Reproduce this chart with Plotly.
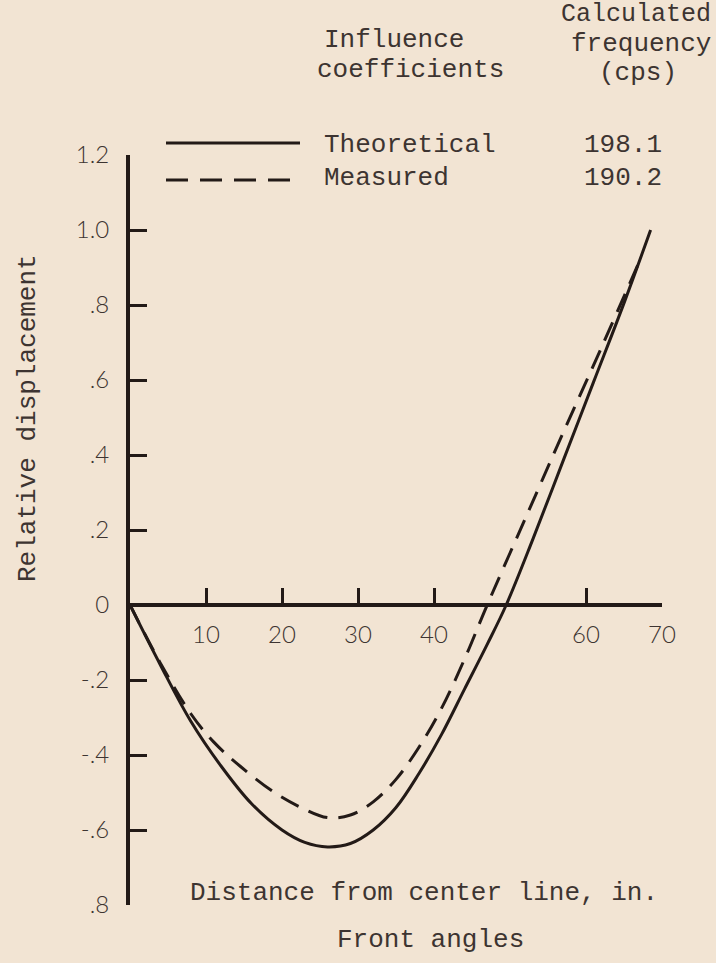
import plotly.graph_objects as go

# Distance from center line (in.) and relative displacement, front angles
theo_x = [0, 4, 8, 12, 16, 20, 23, 26, 29, 32, 35, 38, 41, 44, 47, 49.5, 53, 57, 61, 65, 68.5]
theo_y = [0, -0.16, -0.31, -0.43, -0.53, -0.60, -0.633, -0.645, -0.636, -0.60, -0.54,
          -0.45, -0.345, -0.225, -0.105, 0, 0.175, 0.385, 0.595, 0.805, 1.0]

meas_x = [0, 4, 8, 11, 14.5, 19, 22.5, 26, 29, 32, 35, 38, 41, 44, 47, 52, 57, 62, 67]
meas_y = [0, -0.155, -0.29, -0.365, -0.43, -0.50, -0.54, -0.567, -0.56, -0.525, -0.465,
          -0.38, -0.275, -0.145, 0, 0.23, 0.46, 0.685, 0.915]

legend_names = ["Theoretical", "Measured"]
frequencies = ["198.1", "190.2"]

x_ticks = [10, 20, 30, 40, 60, 70]
y_ticks = [-0.8, -0.6, -0.4, -0.2, 0, 0.2, 0.4, 0.6, 0.8, 1.0, 1.2]
y_labels = [".8", "-.6", "-.4", "-.2", "0", ".2", ".4", ".6", ".8", "1.0", "1.2"]

X_RANGE = [0, 70]
Y_RANGE = [-0.8, 1.2]

INK = "#231a17"
TEXT = "#3d3431"
PAPER = "#f2e4d3"
TYPE_FONT = "Liberation Mono"
NUM_FONT = dict(family="Lato", size=24, color=TEXT, weight=300)

W, H = 716, 963
M = dict(l=130, r=54, t=155, b=58)
PW = W - M["l"] - M["r"]
PH = H - M["t"] - M["b"]


def px_x(p):
    """figure pixel column -> paper x"""
    return (p - M["l"]) / PW


def px_y(p):
    """figure pixel row -> paper y"""
    return (H - M["b"] - p) / PH


fig = go.Figure()
fig.add_trace(go.Scatter(x=theo_x, y=theo_y, mode="lines", name=legend_names[0],
                         line=dict(color=INK, width=3, shape="spline", smoothing=1.0)))
fig.add_trace(go.Scatter(x=meas_x, y=meas_y, mode="lines", name=legend_names[1],
                         line=dict(color=INK, width=3, shape="spline", smoothing=1.0,
                                   dash="20px,11px")))

zero_pos = (0 - Y_RANGE[0]) / (Y_RANGE[1] - Y_RANGE[0])

fig.update_layout(
    width=W, height=H, margin=M,
    paper_bgcolor=PAPER, plot_bgcolor=PAPER,
    showlegend=False,
    xaxis=dict(range=X_RANGE, anchor="free", position=zero_pos,
               showline=True, linecolor=INK, linewidth=3.5,
               ticks="inside", ticklen=15, tickwidth=2.5, tickcolor=INK,
               tickvals=x_ticks, tickfont=NUM_FONT, ticklabelstandoff=7,
               showgrid=False, zeroline=False),
    yaxis=dict(range=Y_RANGE, showline=True, linecolor=INK, linewidth=4,
               ticks="inside", ticklen=17, tickwidth=2.5, tickcolor=INK,
               tickvals=y_ticks, ticktext=y_labels, tickfont=NUM_FONT,
               ticklabelstandoff=12, showgrid=False, zeroline=False),
)

# Legend key lines
fig.add_shape(type="line", xref="paper", yref="paper",
              x0=px_x(166), x1=px_x(300), y0=px_y(143), y1=px_y(143),
              line=dict(color=INK, width=3))
fig.add_shape(type="line", xref="paper", yref="paper",
              x0=px_x(166), x1=px_x(300), y0=px_y(180), y1=px_y(180),
              line=dict(color=INK, width=3, dash="22px,12px"))


def note(text, x, y, anchor="left", angle=0, size=26):
    fig.add_annotation(text=text, xref="paper", yref="paper",
                       x=px_x(x), y=px_y(y), xanchor=anchor, yanchor="middle",
                       textangle=angle, showarrow=False,
                       font=dict(family=TYPE_FONT, size=size, color=TEXT))


# Column headers
note("Influence", 394, 40, "center")
note("coefficients", 410, 70, "center")
note("Calculated", 636, 15, "center", size=25)
note("frequency", 641, 44, "center")
note("(cps)", 638, 73, "center")

# Legend rows
note(legend_names[0], 322, 145)
note(frequencies[0], 582, 145)
note(legend_names[1], 322, 178)
note(frequencies[1], 582, 178)

# Axis captions
note("Relative displacement", 28, 418, "center", -90)
note("Distance from center line, in.", 188, 893)
note("Front angles", 335, 940)

fig.write_html("out.html")
